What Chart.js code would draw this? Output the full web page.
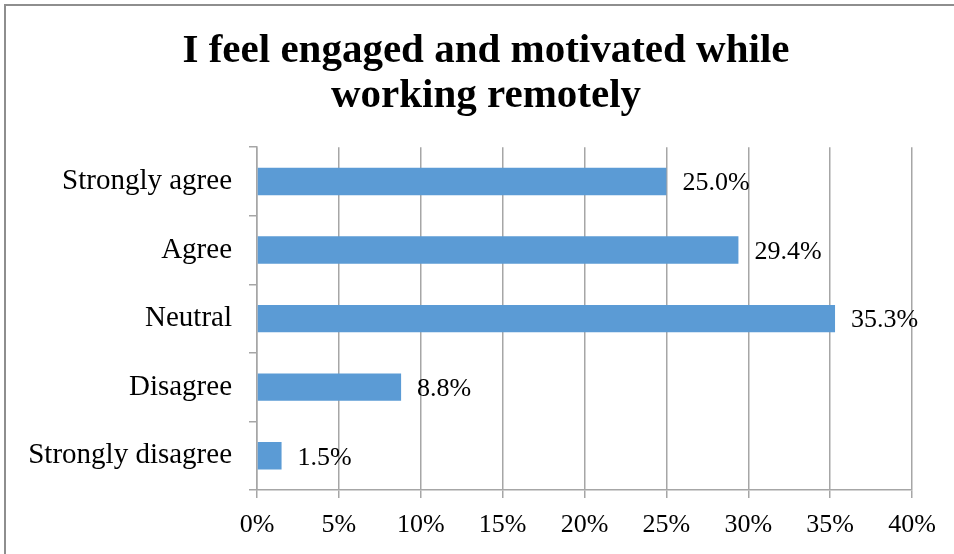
<!DOCTYPE html>
<html>
<head>
<meta charset="utf-8">
<script src="https://cdn.jsdelivr.net/npm/chart.js@4.4.1/dist/chart.umd.min.js"></script>
<style>
    body { margin: 0; background: #fff; }
    #frame {
        position: absolute; left: 4px; top: 4px;
        width: 952px; height: 552px;
        border-left: 2px solid #8e8e8e; border-top: 2px solid #8e8e8e;
    }
    canvas { display: block; }
</style>
</head>
<body>
<div id="frame"><canvas id="engagementChart" width="952" height="548"></canvas></div>
<script>
// Survey responses, top to bottom
const categories = ['Strongly agree', 'Agree', 'Neutral', 'Disagree', 'Strongly disagree'];
const shares = [25.0, 29.4, 35.3, 8.8, 1.5];
const titleLines = ['I feel engaged and motivated while', 'working remotely'];
const axisMax = 40;
const axisStep = 5;

const serif = "'Liberation Serif', 'DejaVu Serif', serif";
const gridGrey = '#a6a6a6';

/**
 * Writes the percentage next to the end of each bar.
 */
const valueLabels = {
    id: 'valueLabels',
    afterDatasetsDraw(chart) {
        const ctx = chart.ctx;
        const meta = chart.getDatasetMeta(0);
        ctx.save();
        ctx.font = '26px ' + serif;
        ctx.fillStyle = '#000';
        ctx.textAlign = 'left';
        ctx.textBaseline = 'middle';
        meta.data.forEach((bar, i) => {
            ctx.fillText(shares[i].toFixed(1) + '%', bar.x + 16, bar.y + 2);
        });
        ctx.restore();
    }
};

/**
 * The left padding keeps the title centred; let the long category names
 * spill into it instead of being clipped at the scale's edge.
 */
const widenLabelArea = {
    id: 'widenLabelArea',
    afterLayout(chart) {
        chart.scales.y.left = 0;
    }
};

const ctx = document.getElementById('engagementChart').getContext('2d');
new Chart(ctx, {
    type: 'bar',
    data: {
        labels: categories,
        datasets: [{
            data: shares,
            backgroundColor: '#5b9bd5',
            borderWidth: 0,
            barPercentage: 0.4,
            categoryPercentage: 1
        }]
    },
    options: {
        indexAxis: 'y',
        responsive: false,
        animation: false,
        layout: { padding: { left: 54, right: 46, top: 0, bottom: 8 } },
        plugins: {
            legend: { display: false },
            tooltip: { enabled: false },
            title: {
                display: true,
                text: titleLines,
                color: '#000',
                font: { family: serif, size: 41, weight: 'bold', lineHeight: 1.1 },
                padding: { top: 23, bottom: 28 }
            }
        },
        scales: {
            x: {
                min: 0,
                max: axisMax,
                ticks: {
                    stepSize: axisStep,
                    color: '#000',
                    font: { family: serif, size: 26 },
                    padding: 12,
                    callback: v => v + '%'
                },
                grid: { color: gridGrey, lineWidth: 1.5, tickLength: 8 },
                border: { color: gridGrey, width: 1.5 },
                afterFit: scale => { scale.height = 56; }
            },
            y: {
                ticks: {
                    color: '#000',
                    font: { family: serif, size: 29 },
                    padding: 17
                },
                grid: { offset: true, drawOnChartArea: false, color: gridGrey, lineWidth: 1.5, tickLength: 8 },
                border: { color: gridGrey, width: 1.5 },
                afterFit: scale => { scale.width = 197; }
            }
        }
    },
    plugins: [valueLabels, widenLabelArea]
});
</script>
</body>
</html>
